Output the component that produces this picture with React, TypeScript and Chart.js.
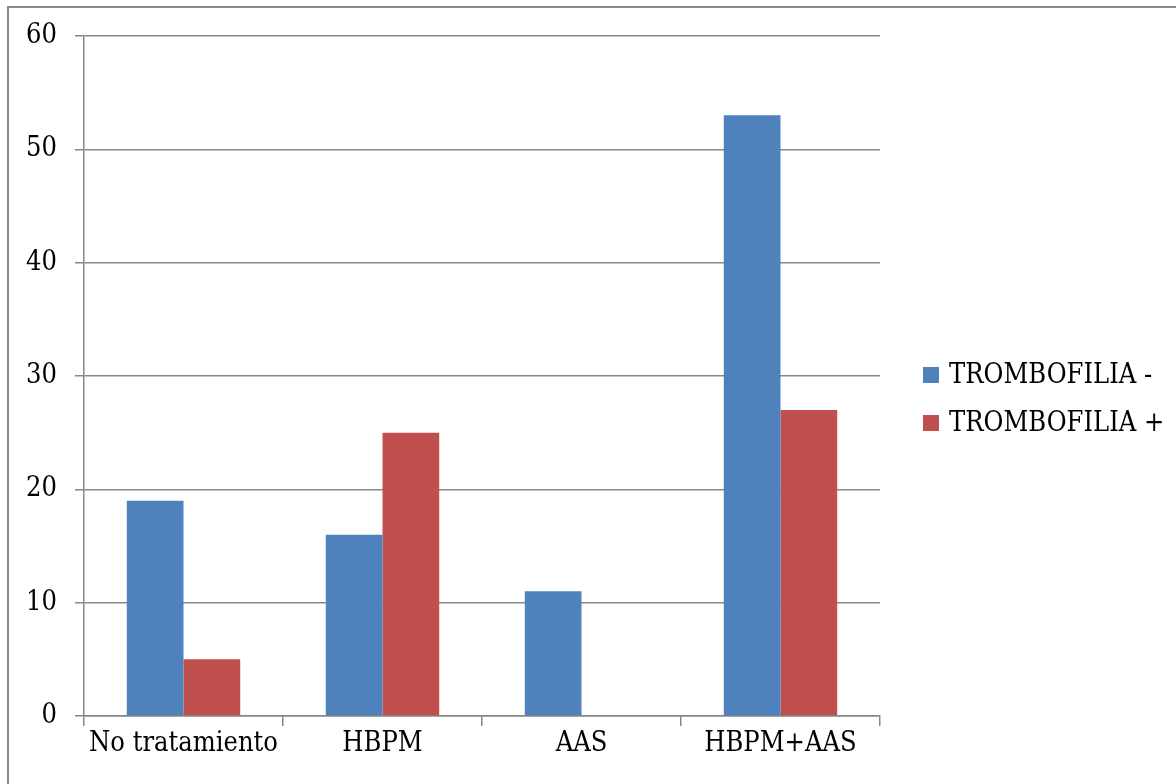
import React, { useEffect, useRef } from "react";
import { Chart, registerables } from "chart.js";

Chart.register(...registerables);

const categories = ["No tratamiento", "HBPM", "AAS", "HBPM+AAS"];
const trombofiliaNeg = [19, 16, 11, 53];
const trombofiliaPos = [5, 25, 0, 27];
const seriesLabels = ["TROMBOFILIA -", "TROMBOFILIA +"];
const seriesColors = ["#4F81BD", "#C0504D"];
const yTicks = [0, 10, 20, 30, 40, 50, 60];

const FONT = "'DejaVu Serif Condensed', 'DejaVu Serif', serif";
const FONT_SIZE = 27;
const AXIS_GRAY = "#878787";

// Legend drawn to the right of the plot, one square swatch per dataset
const sideLegend = {
  id: "sideLegend",
  afterDraw(chart: any) {
    const ctx = chart.ctx;
    const x = 923;
    const yStart = 375;
    const rowGap = 48;
    ctx.save();
    ctx.font = `${FONT_SIZE}px ${FONT}`;
    ctx.textBaseline = "middle";
    ctx.textAlign = "left";
    chart.data.datasets.forEach((ds: any, i: number) => {
      const y = yStart + i * rowGap;
      ctx.fillStyle = ds.backgroundColor;
      ctx.fillRect(x, y - 8, 16, 16);
      ctx.fillStyle = "#000";
      ctx.fillText(ds.label, x + 26, y + 1);
    });
    ctx.restore();
  },
};

export default function App() {
  const canvasRef = useRef<HTMLCanvasElement>(null);

  useEffect(() => {
    if (!canvasRef.current) return;
    const chart = new Chart(canvasRef.current, {
      type: "bar",
      data: {
        labels: categories,
        datasets: [
          {
            label: seriesLabels[0],
            data: trombofiliaNeg,
            backgroundColor: seriesColors[0],
            borderWidth: 0,
          },
          {
            label: seriesLabels[1],
            data: trombofiliaPos,
            backgroundColor: seriesColors[1],
            borderWidth: 0,
          },
        ],
      },
      options: {
        animation: false,
        responsive: false,
        maintainAspectRatio: false,
        layout: { padding: { top: 36, right: 296, left: 0, bottom: 0 } },
        datasets: {
          bar: { categoryPercentage: 0.57, barPercentage: 1 },
        },
        plugins: {
          legend: { display: false },
          tooltip: { enabled: false },
        },
        scales: {
          x: {
            afterFit(scale: any) {
              scale.height = 68;
            },
            border: { display: true, color: AXIS_GRAY, width: 1.5 },
            grid: {
              display: true,
              offset: true,
              drawOnChartArea: false,
              drawTicks: true,
              tickLength: 10,
              color: AXIS_GRAY,
              lineWidth: 1.5,
            },
            ticks: {
              color: "#000",
              padding: 2,
              maxRotation: 0,
              font: { family: FONT, size: FONT_SIZE },
            },
          },
          y: {
            min: 0,
            max: 60,
            afterFit(scale: any) {
              scale.width = 84;
            },
            afterBuildTicks(scale: any) {
              scale.ticks = yTicks.map((v) => ({ value: v }));
            },
            border: { display: true, color: AXIS_GRAY, width: 1.5 },
            grid: {
              color: AXIS_GRAY,
              lineWidth: 1.5,
              drawTicks: true,
              tickLength: 9,
            },
            ticks: {
              color: "#000",
              padding: 18,
              font: { family: FONT, size: FONT_SIZE },
            },
          },
        },
      },
      plugins: [sideLegend],
    });
    return () => chart.destroy();
  }, []);

  return (
    <div
      style={{
        position: "fixed",
        left: 0,
        top: 0,
        width: 1176,
        height: 784,
        overflow: "hidden",
        background: "#fff",
      }}
    >
      <div
        style={{
          position: "absolute",
          left: 7,
          top: 6,
          width: 1300,
          height: 900,
          border: "2px solid #8a8a8a",
          boxSizing: "border-box",
        }}
      />
      <canvas
        ref={canvasRef}
        width={1176}
        height={784}
        style={{ position: "absolute", left: 0, top: 0 }}
      />
    </div>
  );
}
